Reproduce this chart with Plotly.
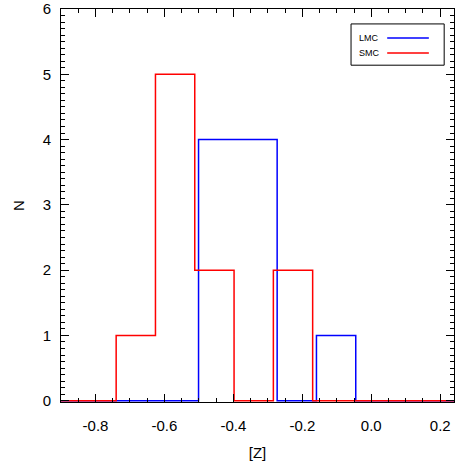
import plotly.graph_objects as go

# Data
lmc_edges = [-0.501, -0.387, -0.273, -0.159, -0.045]
lmc_counts = [4, 4, 0, 1]
smc_edges = [-0.740, -0.626, -0.512, -0.398, -0.284, -0.170]
smc_counts = [1, 5, 2, 0, 2]
x_range = [-0.9, 0.24]
y_range = [-0.02, 6.0]
x_ticks = [-0.8, -0.6, -0.4, -0.2, 0.0, 0.2]
x_ticktext = ["-0.8", "-0.6", "-0.4", "-0.2", "0.0", "0.2"]
y_ticks = [0, 1, 2, 3, 4, 5, 6]


def step_outline(edges, counts, lo, hi):
    xs = [lo, edges[0]]
    ys = [0, 0]
    for i, c in enumerate(counts):
        xs += [edges[i], edges[i + 1]]
        ys += [c, c]
    xs += [edges[-1], hi]
    ys += [0, 0]
    return xs, ys


FONT = "Liberation Sans, Arial, Helvetica, sans-serif"
fig = go.Figure()
for name, edges, counts, color in [
    ("LMC", lmc_edges, lmc_counts, "#0000ff"),
    ("SMC", smc_edges, smc_counts, "#ff0000"),
]:
    xs, ys = step_outline(edges, counts, x_range[0], x_range[1])
    fig.add_trace(go.Scatter(x=xs, y=ys, mode="lines", name=name,
                             line=dict(color=color, width=1.5, shape="linear"),
                             showlegend=False, cliponaxis=False))

axis_common = dict(
    showgrid=False, zeroline=False, showline=True, linecolor="black",
    linewidth=1, mirror="allticks", ticks="inside", tickcolor="black",
    ticklen=8, tickwidth=1, automargin=False,
    tickfont=dict(family=FONT, size=15, color="black"),
)
fig.update_xaxes(range=x_range, tickvals=x_ticks, ticktext=x_ticktext,
                 minor=dict(dtick=0.05, ticks="inside", ticklen=4,
                            tickcolor="black", tickwidth=1),
                 ticklabelstandoff=10,
                 title=dict(text="[Z]", font=dict(family=FONT, size=15, color="black"),
                            standoff=14),
                 **axis_common)
fig.update_yaxes(range=y_range, tickvals=y_ticks,
                 minor=dict(dtick=0.1, ticks="inside", ticklen=4,
                            tickcolor="black", tickwidth=1),
                 ticklabelstandoff=6,
                 title=dict(text="N", font=dict(family=FONT, size=15, color="black"),
                            standoff=14),
                 **axis_common)

# Legend (text then line sample), drawn in paper coordinates
fig.add_shape(type="rect", xref="paper", yref="paper", x0=0.738, x1=0.975,
              y0=0.857, y1=0.962, line=dict(color="black", width=1),
              fillcolor="white")
for label, yy, color in [("LMC", 0.926, "#0000ff"), ("SMC", 0.888, "#ff0000")]:
    fig.add_annotation(xref="paper", yref="paper", x=0.753, y=yy, text=label,
                       showarrow=False, xanchor="left", yanchor="middle",
                       font=dict(family=FONT, size=9, color="black"))
    fig.add_shape(type="line", xref="paper", yref="paper", x0=0.830, x1=0.936,
                  y0=yy, y1=yy, line=dict(color=color, width=1.5))

fig.update_layout(width=463, height=463,
                  margin=dict(l=61, r=9, t=9, b=61, autoexpand=False),
                  paper_bgcolor="white", plot_bgcolor="white",
                  showlegend=False)
fig.write_html("out.html", config={"displayModeBar": False},
               post_script="document.body.style.margin='0px';document.body.style.padding='0px';")
